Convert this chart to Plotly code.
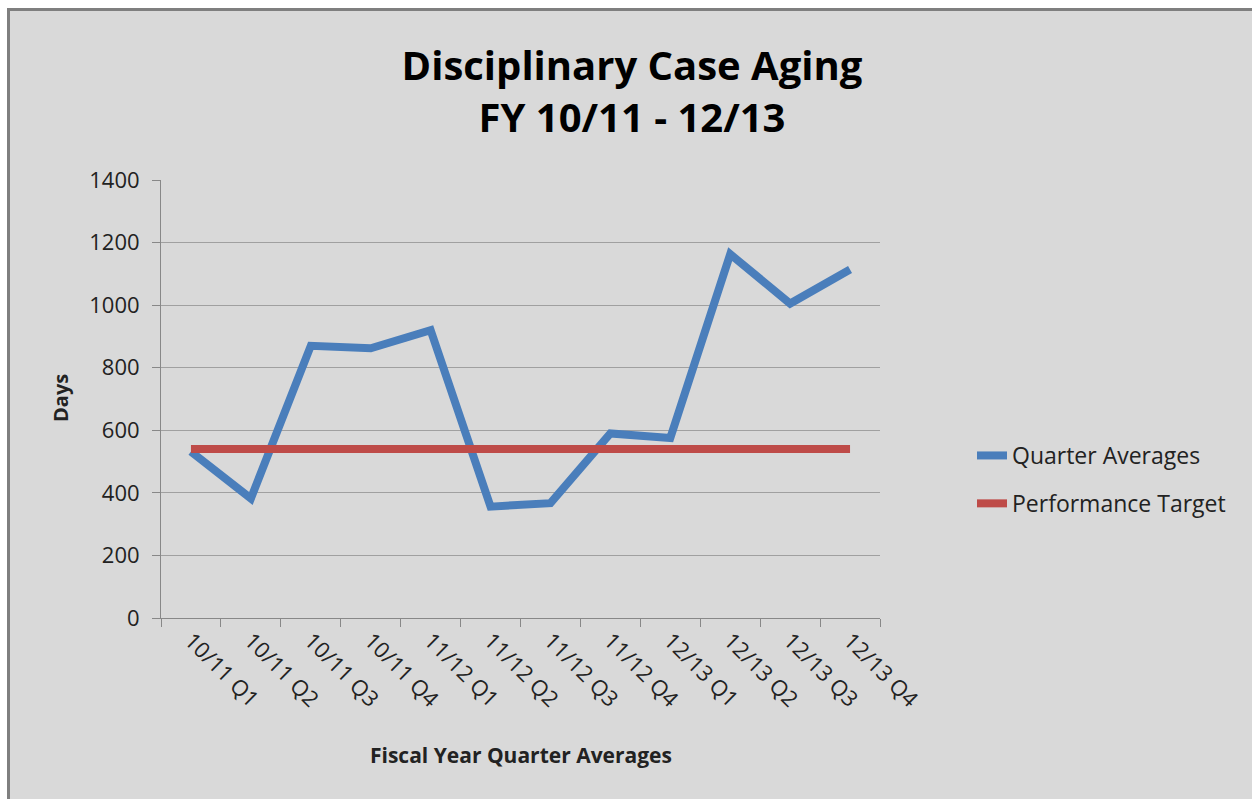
import plotly.graph_objects as go

quarters = ["10/11 Q1", "10/11 Q2", "10/11 Q3", "10/11 Q4",
            "11/12 Q1", "11/12 Q2", "11/12 Q3", "11/12 Q4",
            "12/13 Q1", "12/13 Q2", "12/13 Q3", "12/13 Q4"]
quarter_avg = [532, 382, 870, 862, 920, 356, 367, 590, 575, 1163, 1005, 1114]
target = [540] * len(quarters)
y_ticks = [0, 200, 400, 600, 800, 1000, 1200, 1400]

W, H = 1252, 799
L, R, T, B = 161, 880, 180, 618

def px(x):
    return (x - L) / (R - L)

def py(y):
    return (B - y) / (B - T)

fig = go.Figure()
fig.add_trace(go.Scatter(x=quarters, y=quarter_avg, mode="lines", name="Quarter Averages",
                         line=dict(color="#4a7ebb", width=8), legendgroup="a"))
fig.add_trace(go.Scatter(x=quarters, y=target, mode="lines", name="Performance Target",
                         line=dict(color="#be4b48", width=8), legendgroup="b"))

fig.update_layout(
    width=W, height=H,
    margin=dict(l=L, r=W - R, t=T, b=H - B),
    paper_bgcolor="white",
    plot_bgcolor="#e6e6e6",
    font=dict(family="Open Sans", color="#222"),
    title=dict(text="<b>Disciplinary Case Aging<br>FY 10/11 - 12/13</b>",
               x=px(632), xref="paper", xanchor="center",
               y=1 - 80 / H, yref="container", yanchor="middle",
               font=dict(size=40, color="black")),
    showlegend=True,
    legend=dict(x=px(972), y=py(434), xanchor="left", yanchor="top",
                font=dict(size=23, color="#222"), tracegroupgap=15,
                bgcolor="rgba(0,0,0,0)"),
    shapes=[dict(type="rect", xref="paper", yref="paper",
                 x0=px(8.5), x1=px(1270), y0=py(9.5), y1=py(820),
                 fillcolor="#d9d9d9", line=dict(color="#7f7f7f", width=3),
                 layer="below")],
    annotations=[
        dict(text="<b>Days</b>", xref="paper", yref="paper", x=px(60), y=py(398),
             xanchor="center", yanchor="middle", textangle=-90, showarrow=False,
             font=dict(size=20, color="#222")),
        dict(text="<b>Fiscal Year Quarter Averages</b>", xref="paper", yref="paper",
             x=px(521), y=py(755), xanchor="center", yanchor="middle", showarrow=False,
             font=dict(size=21, color="#222")),
    ],
)
fig.update_xaxes(
    type="category", range=[-0.5, len(quarters) - 0.5], tickangle=45,
    tickson="boundaries", ticks="outside",
    ticklen=8, tickcolor="#888", showline=True, linecolor="#888", linewidth=1,
    showgrid=False, mirror=False,
    tickfont=dict(size=22, color="#222"),
)
fig.update_yaxes(
    range=[0, 1400], tickvals=y_ticks, ticks="outside", ticklen=8, tickcolor="#888",
    showline=True, linecolor="#888", linewidth=1, showgrid=True, gridcolor="#a0a0a0",
    gridwidth=1, zeroline=False, tickfont=dict(size=22, color="#222"),
    ticklabelstandoff=8,
)
fig.write_html("out.html", config={"displayModeBar": False},
               post_script="document.body.style.margin='0px';")
